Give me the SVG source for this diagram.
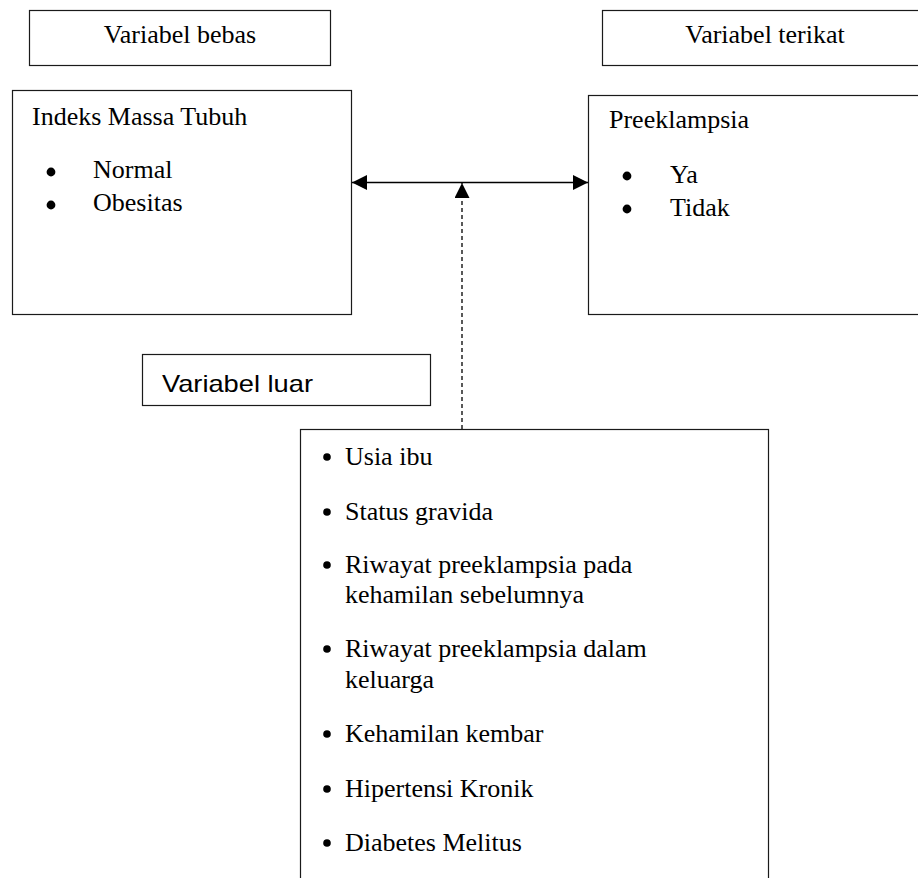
<svg xmlns="http://www.w3.org/2000/svg" width="918" height="878" viewBox="0 0 918 878">
<style>
.box{fill:#fff;stroke:#1a1a1a;stroke-width:1.2}
.t{font-family:"Liberation Serif","Times New Roman",serif;font-size:26px;fill:#000}
.s{font-family:"Liberation Sans",Arial,sans-serif;font-size:24px;fill:#000}
.dot{fill:#000}
.ln{stroke:#000;stroke-width:1.3;fill:none}
.dash{stroke:#000;stroke-width:1.3;fill:none;stroke-dasharray:4 3}
</style>
<defs>
<marker id="ah" viewBox="0 0 15 15" refX="15" refY="7.5" markerWidth="15" markerHeight="15" markerUnits="userSpaceOnUse" orient="auto-start-reverse">
<path d="M0,0 L15,7.5 L0,15 Z" fill="#000"/>
</marker>
</defs>
<rect width="918" height="878" fill="#fff"/>
<g id="label-bebas">
<rect class="box" x="29.5" y="10.5" width="301" height="55"/>
<text class="t" x="180" y="43" text-anchor="middle">Variabel bebas</text>
</g>
<g id="label-terikat">
<rect class="box" x="602.5" y="10.5" width="330" height="55"/>
<text class="t" x="765" y="43" text-anchor="middle">Variabel terikat</text>
</g>
<g id="node-imt">
<rect class="box" x="12.5" y="90.5" width="339" height="224"/>
<text class="t" x="32" y="125">Indeks Massa Tubuh</text>
<circle class="dot" cx="51" cy="172" r="4.4"/>
<text class="t" x="93" y="178">Normal</text>
<circle class="dot" cx="51" cy="205" r="4.4"/>
<text class="t" x="93" y="211">Obesitas</text>
</g>
<g id="node-preeklampsia">
<rect class="box" x="588.5" y="95.5" width="340" height="219"/>
<text class="t" x="609" y="128">Preeklampsia</text>
<circle class="dot" cx="627" cy="176" r="4.4"/>
<text class="t" x="670" y="183">Ya</text>
<circle class="dot" cx="627" cy="209" r="4.4"/>
<text class="t" x="670" y="216">Tidak</text>
</g>
<g id="label-luar">
<rect class="box" x="142.5" y="354.5" width="288" height="51"/>
<text class="s" x="162" y="392" textLength="151" lengthAdjust="spacingAndGlyphs">Variabel luar</text>
</g>
<g id="node-luar">
<rect class="box" x="300.5" y="429.5" width="468" height="470"/>
<circle class="dot" cx="327" cy="457" r="3.8"/>
<text class="t" x="345" y="465">Usia ibu</text>
<circle class="dot" cx="327" cy="512" r="3.8"/>
<text class="t" x="345" y="520">Status gravida</text>
<circle class="dot" cx="327" cy="565" r="3.8"/>
<text class="t" x="345" y="573">Riwayat preeklampsia pada</text>
<text class="t" x="345" y="603">kehamilan sebelumnya</text>
<circle class="dot" cx="327" cy="649" r="3.8"/>
<text class="t" x="345" y="657">Riwayat preeklampsia dalam</text>
<text class="t" x="345" y="688">keluarga</text>
<circle class="dot" cx="327" cy="734" r="3.8"/>
<text class="t" x="345" y="742">Kehamilan kembar</text>
<circle class="dot" cx="327" cy="789" r="3.8"/>
<text class="t" x="345" y="797">Hipertensi Kronik</text>
<circle class="dot" cx="327" cy="843" r="3.8"/>
<text class="t" x="345" y="851">Diabetes Melitus</text>
</g>
<g id="connectors">
<line class="ln" x1="352" y1="182.5" x2="588" y2="182.5" marker-start="url(#ah)" marker-end="url(#ah)"/>
<line class="dash" x1="462" y1="429" x2="462" y2="183" marker-end="url(#ah)"/>
</g>
</svg>
